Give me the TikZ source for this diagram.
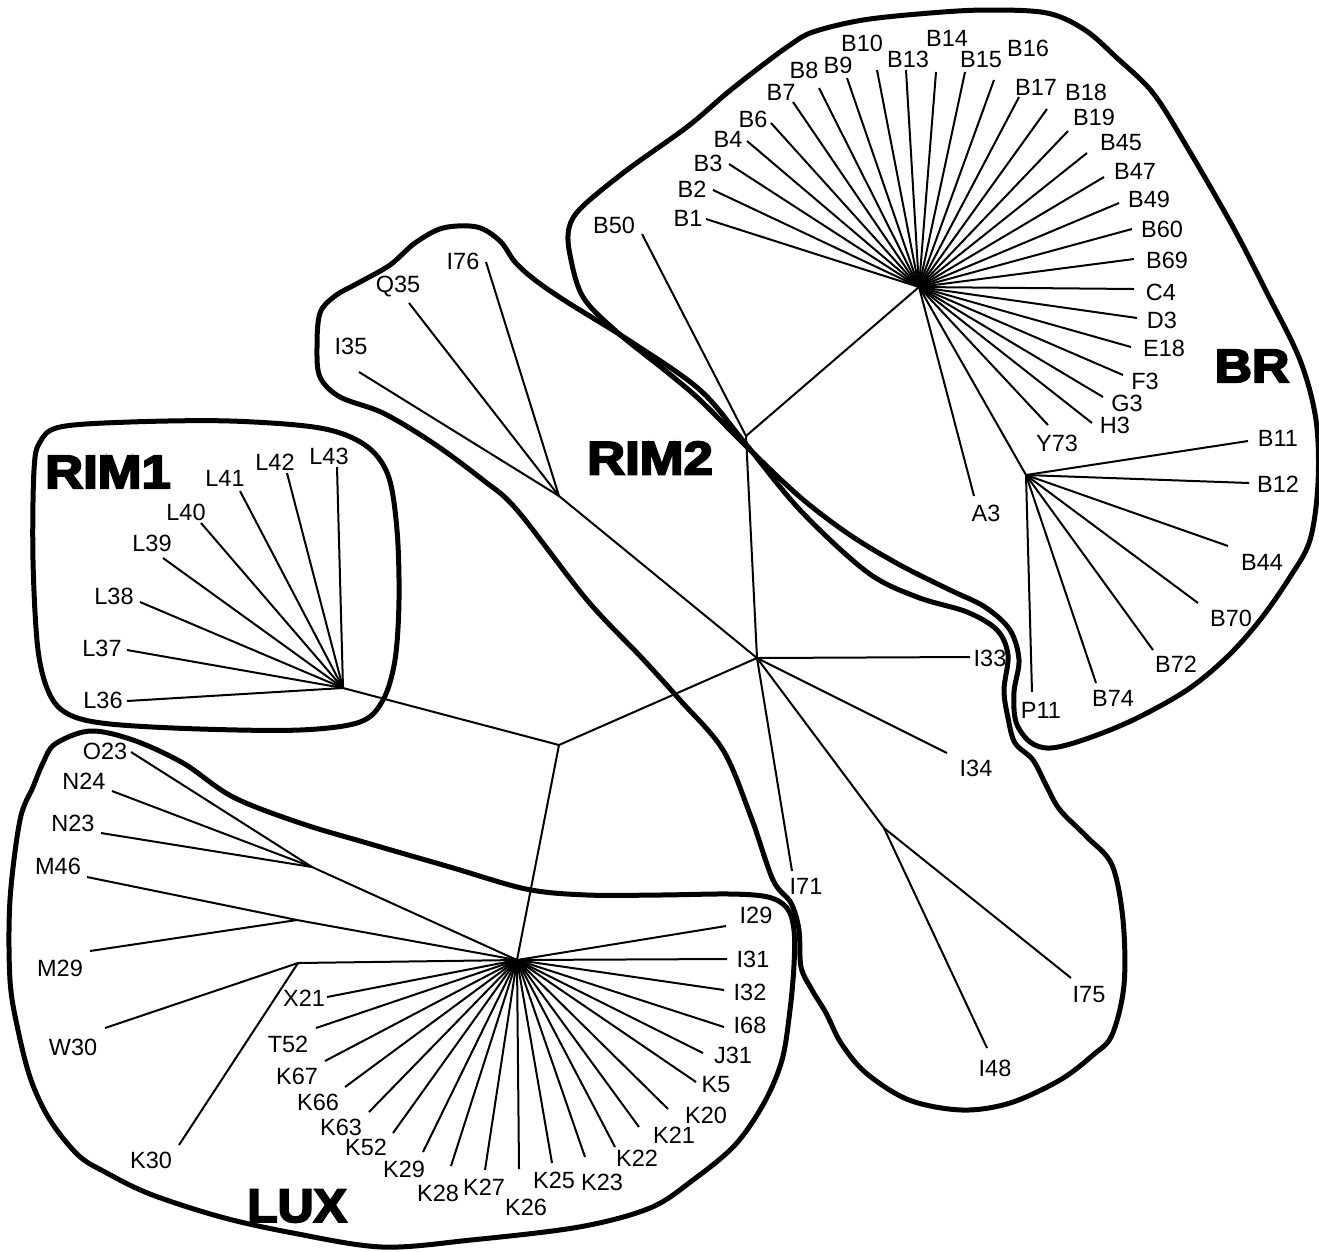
\documentclass[tikz,border=0pt]{standalone}
\usepackage{fontspec}
\setmainfont{Liberation Sans}
\newfontfamily\heavyfont{Liberation Sans}[BoldFeatures={FakeBold=4}]
\usepackage{graphicx}
\begin{document}
\begin{tikzpicture}[x=1pt,y=-1pt,
  leaf/.style={font=\fontsize{23.5}{26}\selectfont, inner sep=0pt},
  edge/.style={line width=2pt},
  hull/.style={line width=5pt, line join=round},
  grp/.style={inner sep=0pt, font=\fontsize{47}{50}\selectfont\heavyfont\bfseries}]
\useasboundingbox (0,0) rectangle (1319,1251);
% internal nodes
\coordinate (BRhub) at (919,287);
\coordinate (Jbsub) at (1026,475);
\coordinate (Jb50) at (746,436);
\coordinate (Jc) at (757,658);
\coordinate (Jq) at (559,496);
\coordinate (Jmid) at (559,745);
\coordinate (Rhub) at (343,688);
\coordinate (Lhub) at (517,960);
\coordinate (Ji48) at (884,828);
\coordinate (Jw) at (298,963);
\coordinate (Jm) at (297,920);
\coordinate (Jn) at (312,867);
% backbone
\draw[edge] (BRhub) -- (Jb50) -- (Jc) -- (Jmid) -- (Rhub);
\draw[edge] (Jmid) -- (Lhub);
\draw[edge] (Jq) -- (Jc) -- (Ji48);
\draw[edge] (BRhub) -- (Jbsub);
\draw[edge] (Lhub) -- (Jw);
\draw[edge] (Lhub) -- (Jm);
\draw[edge] (Lhub) -- (Jn);
% leaves
\foreach \n/\ex/\ey/\lx/\ly in {B1/706/219/688/218, B2/713/190/692/189, B3/729/164/708/163, B4/747/141/728/139, B6/771/123/753/119, B7/793/102/781/92, B8/819/88/804/70, B9/847/78/838/65, B10/877/70/862/43, B13/906/70/908/59, B14/936/72/947/38, B15/965/72/981/60, B16/994/80/1028/48, B17/1019/97/1036/87, B18/1047/109/1086/92, B19/1068/131/1094/117, B45/1087/153/1121/143, B47/1104/177/1135/171, B49/1119/203/1149/199, B60/1132/229/1162/229, B69/1134/259/1167/260, C4/1134/289/1161/292, D3/1137/318/1162/320, E18/1131/347/1164/348, F3/1123/375/1145/381, G3/1103/397/1127/403, H3/1092/423/1115/425, Y73/1048/425/1057/443, A3/974/496/986/513}
  {\coordinate (e\n) at (\ex,\ey); \node[leaf] (l\n) at (\lx,\ly) {\n}; \draw[edge] (BRhub) -- (e\n);}
\foreach \n/\ex/\ey/\lx/\ly in {B11/1248/441/1278/438, B12/1249/483/1278/484, B44/1228/546/1262/562, B70/1198/603/1231/618, B72/1153/650/1176/664, B74/1096/683/1113/698, P11/1032/692/1041/710}
  {\coordinate (e\n) at (\ex,\ey); \node[leaf] (l\n) at (\lx,\ly) {\n}; \draw[edge] (Jbsub) -- (e\n);}
\foreach \n/\ex/\ey/\lx/\ly in {B50/642/234/614/225}
  {\coordinate (e\n) at (\ex,\ey); \node[leaf] (l\n) at (\lx,\ly) {\n}; \draw[edge] (Jb50) -- (e\n);}
\foreach \n/\ex/\ey/\lx/\ly in {I35/359/372/351/346, Q35/409/303/398/287, I76/486/262/463/261}
  {\coordinate (e\n) at (\ex,\ey); \node[leaf] (l\n) at (\lx,\ly) {\n}; \draw[edge] (Jq) -- (e\n);}
\foreach \n/\ex/\ey/\lx/\ly in {I33/970/657/990/658, I34/947/753/976/768, I71/792/871/806/886}
  {\coordinate (e\n) at (\ex,\ey); \node[leaf] (l\n) at (\lx,\ly) {\n}; \draw[edge] (Jc) -- (e\n);}
\foreach \n/\ex/\ey/\lx/\ly in {I48/987/1048/995/1068, I75/1071/978/1089/995}
  {\coordinate (e\n) at (\ex,\ey); \node[leaf] (l\n) at (\lx,\ly) {\n}; \draw[edge] (Ji48) -- (e\n);}
\foreach \n/\ex/\ey/\lx/\ly in {L36/127/701/103/700, L37/127/650/102/648, L38/140/602/114/596, L39/163/558/152/543, L40/201/523/186/512, L41/240/491/225/478, L42/287/473/275/462, L43/337/467/329/456}
  {\coordinate (e\n) at (\ex,\ey); \node[leaf] (l\n) at (\lx,\ly) {\n}; \draw[edge] (Rhub) -- (e\n);}
\foreach \n/\ex/\ey/\lx/\ly in {I29/726/926/756/915, I31/727/959/753/959, I32/724/990/750/992, I68/724/1027/750/1025, J31/703/1053/733/1055, K5/696/1082/716/1085, K20/668/1109/706/1115, K21/639/1127/674/1135, K22/615/1147/637/1158, K23/585/1157/602/1182, K25/552/1163/554/1180, K26/519/1169/526/1207, K27/485/1170/484/1187, K28/451/1166/438/1193, K29/423/1152/404/1169, K52/393/1133/366/1147, K63/369/1112/341/1127, K66/345/1087/318/1102, K67/325/1061/297/1076, T52/316/1028/288/1044, X21/327/997/304/998}
  {\coordinate (e\n) at (\ex,\ey); \node[leaf] (l\n) at (\lx,\ly) {\n}; \draw[edge] (Lhub) -- (e\n);}
\foreach \n/\ex/\ey/\lx/\ly in {W30/105/1028/73/1047, K30/179/1145/151/1160}
  {\coordinate (e\n) at (\ex,\ey); \node[leaf] (l\n) at (\lx,\ly) {\n}; \draw[edge] (Jw) -- (e\n);}
\foreach \n/\ex/\ey/\lx/\ly in {M46/87/877/58/866, M29/90/951/60/968}
  {\coordinate (e\n) at (\ex,\ey); \node[leaf] (l\n) at (\lx,\ly) {\n}; \draw[edge] (Jm) -- (e\n);}
\foreach \n/\ex/\ey/\lx/\ly in {O23/131/752/105/751, N24/112/791/84/781, N23/101/833/73/823}
  {\coordinate (e\n) at (\ex,\ey); \node[leaf] (l\n) at (\lx,\ly) {\n}; \draw[edge] (Jn) -- (e\n);}
% group labels
\node[grp] (gBR) at (1252,366) {\scalebox{1.1}[1]{BR}};
\node[grp] (gRIM2) at (650,458) {\scalebox{1.12}[1]{RIM2}};
\node[grp] (gRIM1) at (108,472) {\scalebox{1.12}[1]{RIM1}};
\node[grp] (gLUX) at (297,1206) {\scalebox{1.06}[1]{LUX}};
% hulls
\draw[hull] plot[smooth cycle, tension=0.55] coordinates {(34,470) (40,442) (60,427) (130,422) (230,421) (320,428) (365,445) (388,475) (397,530) (399,600) (395,660) (383,700) (360,722) (300,730) (200,729) (110,724) (70,715) (50,695) (38,650) (33,560)};
\draw[hull] plot[smooth cycle, tension=0.55] coordinates {(10,900) (20,820) (33,787) (43,763) (55,744) (90,731) (133,740) (183,763) (233,797) (300,823) (367,843) (450,867) (526,889) (587,895) (660,895) (730,894) (768,897) (787,908) (794,930) (794,965) (790,1010) (782,1060) (764,1103) (735,1145) (693,1180) (650,1208) (579,1227) (471,1240) (382,1247) (293,1233) (221,1217) (150,1194) (105,1172) (78,1155) (50,1120) (31,1080) (18,1030) (10,980)};
\draw[hull] plot[smooth cycle, tension=0.55] coordinates {(317,347) (320,313) (335,296) (360,282) (390,265) (415,243) (443,228) (477,227) (500,241) (515,262) (535,280) (567,302) (633,343) (700,390) (745,443) (800,510) (867,572) (917,597) (967,612) (997,630) (1008,655) (1004,690) (1008,718) (1015,743) (1033,760) (1047,787) (1060,810) (1087,837) (1112,865) (1123,920) (1124,985) (1112,1035) (1093,1055) (1060,1080) (1010,1103) (962,1110) (909,1100) (866,1073) (841,1043) (826,1013) (812,990) (801,967) (799,930) (791,903) (773,880) (751,817) (723,750) (680,700) (641,657) (587,600) (517,510) (483,480) (433,443) (383,413) (340,397) (320,377)};
\draw[hull] plot[smooth cycle, tension=0.55] coordinates {(813,32) (863,20) (930,13) (987,10) (1047,13) (1085,30) (1117,58) (1153,93) (1187,147) (1233,227) (1267,293) (1300,360) (1316,420) (1318,483) (1310,540) (1290,577) (1260,620) (1227,657) (1187,690) (1133,720) (1083,740) (1050,748) (1030,742) (1016,722) (1014,692) (1019,660) (1010,630) (985,607) (950,590) (900,565) (850,535) (800,497) (745,445) (700,400) (667,372) (617,332) (583,297) (570,255) (569,228) (582,207) (627,170) (687,127) (727,93) (760,67) (790,45)};
\end{tikzpicture}
\end{document}
